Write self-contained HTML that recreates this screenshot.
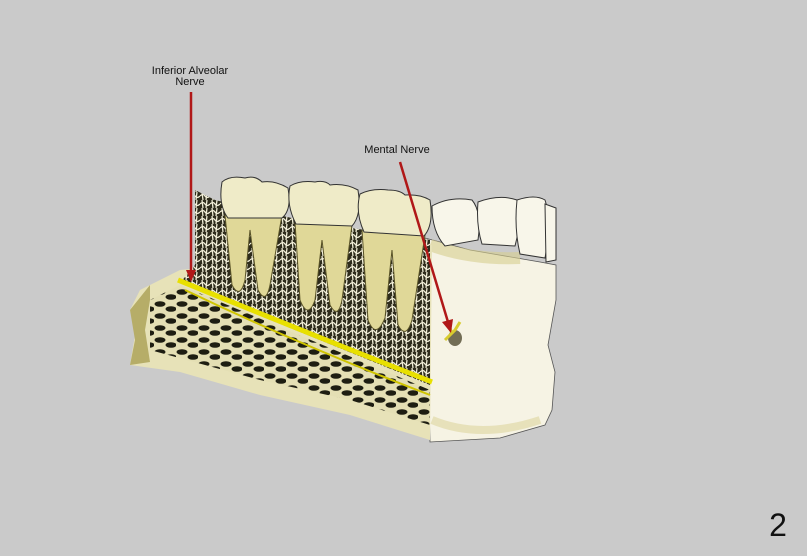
<!DOCTYPE html>
<html><head><style>
html,body{margin:0;padding:0;background:#cacaca;}
svg{display:block}
text{font-family:"Liberation Sans",sans-serif;fill:#111}
</style></head><body>
<svg width="807" height="556" viewBox="0 0 807 556" xmlns="http://www.w3.org/2000/svg">
<defs>
<pattern id="sp" width="10" height="8" patternUnits="userSpaceOnUse">
<rect width="10" height="8" fill="#2e2c1c"/>
<path d="M0 4 Q3 1 5 4 T10 4 M2 0 L3 8 M7 0 L6 8" stroke="#f1eed8" stroke-width="1.3" fill="none"/>
</pattern>
<pattern id="cp" width="22" height="12" patternUnits="userSpaceOnUse">
<rect width="22" height="12" fill="#e4dfb4"/>
<ellipse cx="6" cy="4" rx="5.5" ry="2.8" fill="#1e1e12"/>
<ellipse cx="17" cy="9" rx="5.5" ry="2.8" fill="#1e1e12"/>
</pattern>
</defs>
<text x="190" y="74" font-size="11" text-anchor="middle">Inferior Alveolar</text>
<text x="190" y="85" font-size="11" text-anchor="middle">Nerve</text>
<text x="397" y="153" font-size="11" text-anchor="middle">Mental Nerve</text>
<text x="778" y="536" font-size="32" text-anchor="middle" style="fill:#111">2</text>

<path d="M425 238 L470 250 L540 262 L556 265 L556 300 L548 345 L555 372 L552 410 L545 425 L500 438 L430 442 Z" fill="#f6f3e4" stroke="#555" stroke-width="0.8"/>
<path d="M430 245 Q470 260 520 258" stroke="#d7cf90" stroke-width="12" fill="none" opacity="0.6"/>
<path d="M432 420 Q480 440 540 420" stroke="#d7cf90" stroke-width="8" fill="none" opacity="0.5"/>
<path d="M180 270 L140 290 L130 310 L135 335 L130 365 L180 372 L260 395 L350 415 L430 440 L432 245 Z" fill="#e7e2b8"/>
<path d="M150 285 L130 310 L135 340 L130 365 L150 362 L145 330 L150 300 Z" fill="#b6ad68"/>
<path d="M150 300 L180 285 L430 390 L430 425 L350 400 L260 380 L150 350 Z" fill="url(#cp)"/>
<path d="M195 190 L215 200 L300 220 L430 240 L430 385 L180 283 L195 265 Z" fill="url(#sp)"/>
<g fill="#e0d898" stroke="#5a5428" stroke-width="1">
<path d="M225 215 L232 285 Q240 300 245 280 L250 230 L258 290 Q266 305 270 285 L282 215 Z"/>
<path d="M295 222 L300 300 Q308 320 315 300 L322 240 L330 305 Q338 320 342 300 L352 225 Z"/>
<path d="M362 230 L368 320 Q376 340 385 318 L392 250 L398 325 Q406 340 412 320 L425 235 Z"/>
</g>
<path d="M178 280 Q300 330 432 382" stroke="#e8e000" stroke-width="5" fill="none"/>
<path d="M185 290 Q300 345 430 395" stroke="#cfc400" stroke-width="2" fill="none"/>
<ellipse cx="455" cy="338" rx="7" ry="8" fill="#3a3318" opacity="0.7"/>
<path d="M445 340 L455 330 L460 322 M452 334 L448 322" stroke="#d8cc30" stroke-width="3" fill="none"/>
<g fill="#efebc8" stroke="#333" stroke-width="1">
<path d="M222 182 Q230 175 245 178 Q255 175 262 182 Q275 180 288 188 Q292 210 282 218 L228 218 Q218 205 222 182 Z"/>
<path d="M290 186 Q300 180 315 182 Q325 180 330 185 Q345 183 358 190 Q362 215 352 226 L296 224 Q286 205 290 186 Z"/>
<path d="M360 194 Q372 188 388 190 Q400 190 405 195 Q420 194 430 200 Q434 225 424 236 L364 232 Q355 212 360 194 Z"/>
</g>
<g fill="#f8f6ea" stroke="#333" stroke-width="1">
<path d="M432 206 Q450 196 472 200 Q482 212 478 240 L445 246 Q432 232 432 206 Z"/>
<path d="M478 202 Q500 194 517 200 Q522 220 515 246 L482 244 Q476 225 478 202 Z"/>
<path d="M517 200 Q535 194 545 200 Q552 220 545 258 L520 254 Q514 228 517 200 Z"/>
<path d="M545 204 L556 208 L556 260 L546 262 Z"/>
</g>
<g stroke="#b01818" stroke-width="2.5" fill="#b01818">
<line x1="191" y1="92" x2="191" y2="272"/>
<path d="M186 270 L196 270 L191 282 Z" stroke="none"/>
<line x1="400" y1="162" x2="448" y2="322"/>
<path d="M442 322 L453 319 L451 333 Z" stroke="none"/>
</g>
</svg>
</body></html>
